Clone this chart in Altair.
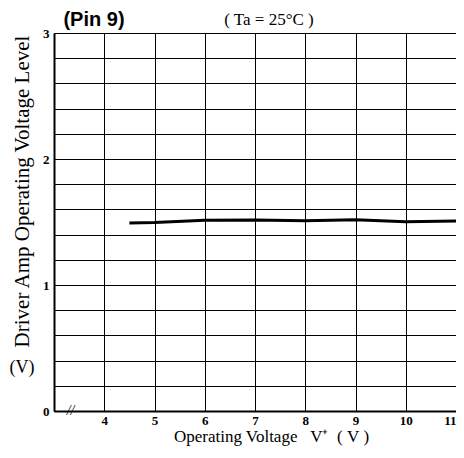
import altair as alt
import pandas as pd

# Data
supply_v = [4.5, 5, 6, 7, 8, 9, 10, 11]
level_v = [1.492, 1.496, 1.513, 1.516, 1.510, 1.518, 1.502, 1.508]

x_ticks = [3, 4, 5, 6, 7, 8, 9, 10, 11]
y_grid = [round(i * 0.2, 1) for i in range(16)]

df = pd.DataFrame({"v": supply_v, "level": level_v})

serif = "Liberation Serif"
nb = "\u00a0"

x_scale = alt.Scale(domain=[3, 11], nice=False, zero=False)
y_scale = alt.Scale(domain=[0, 3], nice=False)

line = alt.Chart(df).mark_line(color="black", strokeWidth=3).encode(
    x=alt.X("v:Q", scale=x_scale,
            axis=alt.Axis(values=x_ticks, tickCount=20, grid=True, gridColor="black", gridWidth=1,
                          gridOpacity=1, ticks=False, domain=True, domainColor="black", domainWidth=2,
                          labelOverlap=False, labelFlush=True,
                          labelExpr="datum.value == 3 ? '' : format(datum.value, 'd')",
                          labelFont=serif, labelFontSize=13, labelFontWeight="bold", labelColor="black",
                          labelPadding=3,
                          title="Operating Voltage" + nb * 3 + "V⁺" + nb * 2 + "(" + nb + "V" + nb + ")",
                          titleFont=serif, titleFontSize=17, titleFontWeight="normal", titleColor="black",
                          titleX=217, titleY=25, titleBaseline="middle")),
    y=alt.Y("level:Q", scale=y_scale,
            axis=alt.Axis(values=y_grid, tickCount=40, grid=True, gridColor="black", gridWidth=1,
                          gridOpacity=1, ticks=False, domain=True, domainColor="black", domainWidth=2,
                          labelOverlap=False, labelFlush=False,
                          labelExpr="abs(datum.value - round(datum.value)) < 0.001 ? format(datum.value, 'd') : ''",
                          labelFont=serif, labelFontSize=13, labelFontWeight="bold", labelColor="black",
                          labelPadding=5,
                          title="Driver Amp Operating Voltage Level",
                          titleFont=serif, titleFontSize=21, titleFontWeight="normal", titleColor="black",
                          titleX=-32, titleY=158, titleAlign="center", titleBaseline="middle", titleAngle=-90)),
)

unit_df = pd.DataFrame({"t": ["(V)"]})
unit_text = alt.Chart(unit_df).mark_text(font=serif, fontSize=18, color="black", align="center",
                                         baseline="middle").encode(
    text="t:N", x=alt.value(-32), y=alt.value(335))

cond_df = pd.DataFrame({"t": ["( Ta = 25°C )"]})
cond_text = alt.Chart(cond_df).mark_text(font=serif, fontSize=17, color="black", align="center",
                                         baseline="middle").encode(
    text="t:N", x=alt.value(215), y=alt.value(-13))

pin_df = pd.DataFrame({"t": ["(Pin  9)"]})
pin_text = alt.Chart(pin_df).mark_text(font="Liberation Sans", fontSize=20, fontWeight="bold",
                                       color="black", align="center", baseline="middle").encode(
    text="t:N", x=alt.value(40), y=alt.value(-13))

brk = pd.DataFrame({"x": [3.33], "y": [0], "t": ["//"]})
break_text = alt.Chart(brk).mark_text(font=serif, fontSize=14, fontStyle="italic", color="black",
                                      baseline="middle", align="center").encode(
    x=alt.X("x:Q", scale=x_scale), y=alt.Y("y:Q", scale=y_scale), text="t:N")

chart = alt.layer(line, unit_text, cond_text, pin_text, break_text).properties(
    width=402, height=378,
    autosize=alt.AutoSizeParams(type="none"),
    padding={"left": 46, "top": 25, "right": 0, "bottom": 35},
).configure_view(stroke="black", strokeWidth=2).configure(background="white")

chart.save("out.html", embed_options={"renderer": "svg", "actions": False})
